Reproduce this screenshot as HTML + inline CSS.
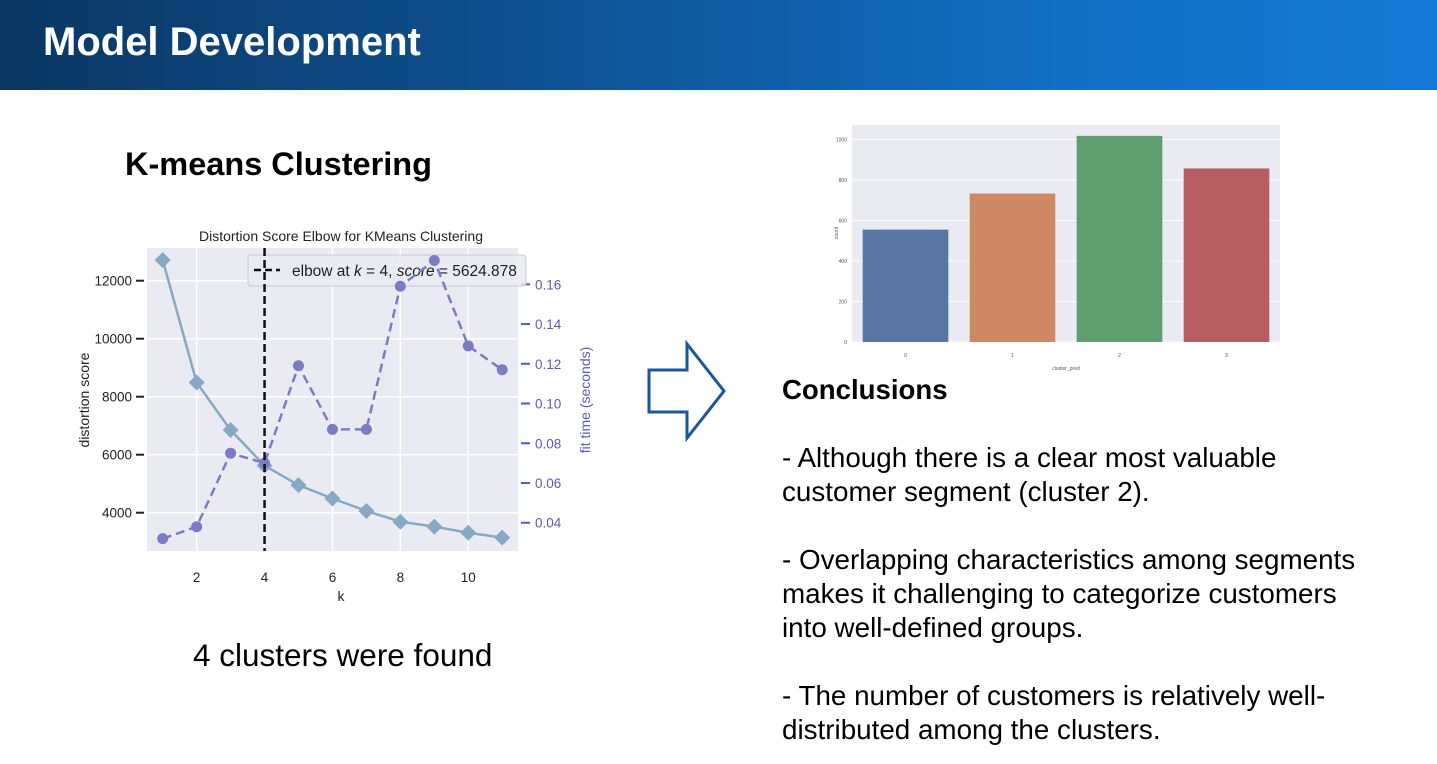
<!DOCTYPE html>
<html><head><meta charset="utf-8"><style>
html,body{margin:0;padding:0;width:1437px;height:764px;overflow:hidden;background:#fff;font-family:"Liberation Sans",sans-serif;}
.hdr{position:absolute;left:0;top:0;width:1437px;height:90px;background:linear-gradient(90deg,#0b3763 0%,#0e4f8f 35%,#1270c4 75%,#1479d6 100%);}
.hdr h1{position:absolute;left:43px;top:20px;margin:0;color:#fff;font-size:40px;font-weight:bold;}
.t{position:absolute;margin:0;color:#000;}
</style></head><body>
<div class="hdr"><h1>Model Development</h1></div>
<div class="t" style="left:125px;top:146px;font-size:32.5px;font-weight:bold;">K-means Clustering</div>
<div class="t" style="left:193px;top:637px;font-size:31.5px;">4 clusters were found</div>
<svg style="position:absolute;left:0;top:0" width="1437" height="764" id="svg">
<polygon points="649,370 687,370 687,344 724,391 687,438 687,412 649,412" fill="#fff" stroke="#1a5699" stroke-width="3"/>
<g id="elbow"></g>
<g id="bar"></g>
</svg>
<div class="t" style="left:782px;top:374px;font-size:27.6px;font-weight:bold;">Conclusions</div>
<div class="t" style="left:782px;top:441px;font-size:27.8px;line-height:34px;width:590px;">- Although there is a clear most valuable customer segment (cluster 2).<br><br>- Overlapping characteristics among segments makes it challenging to categorize customers into well-defined groups.<br><br>- The number of customers is relatively well-distributed among the clusters.</div>
<script>
const ks=[1,2,3,4,5,6,7,8,9,10,11];
const distortion=[12710,8490,6850,5625,4950,4490,4060,3690,3520,3310,3140];
const fitTime=[0.032,0.038,0.075,0.070,0.119,0.087,0.087,0.159,0.172,0.129,0.117];
const kTicks=[2,4,6,8,10];
const leftTicks=[4000,6000,8000,10000,12000];
const rightTicks=[0.04,0.06,0.08,0.10,0.12,0.14,0.16];
const elbowK=4;
const clusters=["0","1","2","3"];
const counts=[555,733,1018,857];
const countTicks=[0,200,400,600,800,1000];
const barColors=["#5875a4","#cc8963","#5f9e6e","#b55d60"];
const NS="http://www.w3.org/2000/svg";
function mk(p,tag,a,txt){const e=document.createElementNS(NS,tag);for(const k in a)e.setAttribute(k,a[k]);if(txt!==undefined)e.textContent=txt;p.appendChild(e);return e;}
const E=document.getElementById('elbow');
const L=147,R=518,T=248,B=551;
const xs=k=>162.7+(k-1)*33.95;
const yl=v=>280.7+(12000-v)*0.029;
const yr=v=>284.3+(0.16-v)*1987;
let bg=mk(E,'rect',{x:L,y:T,width:R-L,height:B-T,fill:'#eaeaf2'});

kTicks.forEach(k=>{mk(E,'line',{x1:xs(k),x2:xs(k),y1:T,y2:B,stroke:'#fff','stroke-width':1.5});
 let t=mk(E,'text',{x:xs(k),y:582,'font-size':13.5,'text-anchor':'middle',fill:'#222'},k);});
leftTicks.forEach(v=>{mk(E,'line',{x1:L,x2:R,y1:yl(v),y2:yl(v),stroke:'#fff','stroke-width':1.5});
 mk(E,'line',{x1:136,x2:144,y1:yl(v),y2:yl(v),stroke:'#222','stroke-width':2});
 let t=mk(E,'text',{x:132,y:yl(v)+5,'font-size':13.5,'text-anchor':'end',fill:'#222'},v);});
rightTicks.forEach(v=>{mk(E,'line',{x1:521,x2:530,y1:yr(v),y2:yr(v),stroke:'#5a5ab8','stroke-width':2});
 let t=mk(E,'text',{x:535,y:yr(v)+5,'font-size':13.5,fill:'#5a5ab8'},v.toFixed(2));});
let tt=mk(E,'text',{x:341,y:241,'font-size':14,'text-anchor':'middle',fill:'#222'},'Distortion Score Elbow for KMeans Clustering');
let xl=mk(E,'text',{x:341,y:601,'font-size':14,'text-anchor':'middle',fill:'#222'},'k');
let yl1=mk(E,'text',{x:0,y:0,'font-size':14,'text-anchor':'middle',fill:'#222',transform:'translate(89,400) rotate(-90)'},'distortion score');
let yl2=mk(E,'text',{x:0,y:0,'font-size':14,'text-anchor':'middle',fill:'#5a5ab8',transform:'translate(590,400) rotate(-90)'},'fit time (seconds)');
let lg=mk(E,'rect',{x:248,y:255,width:278,height:31,rx:3,fill:'#eaeaf2','fill-opacity':0.85,stroke:'#ccc'});

mk(E,'line',{x1:254,x2:280,y1:270,y2:270,stroke:'#111','stroke-width':2.5,'stroke-dasharray':'7,4'});
let lt=mk(E,'text',{x:292,y:276,'font-size':15.5,fill:'#222'});lt.innerHTML='elbow at <tspan font-style="italic">k</tspan> = 4, <tspan font-style="italic">score</tspan> = 5624.878';

let dl=mk(E,'polyline',{points:ks.map((k,i)=>xs(k)+','+yl(distortion[i])).join(' '),fill:'none',stroke:'#86aac4','stroke-width':2.5});

let fl=mk(E,'polyline',{points:ks.map((k,i)=>xs(k)+','+yr(fitTime[i])).join(' '),fill:'none',stroke:'#7c7cc4','stroke-width':2.5,'stroke-dasharray':'9,5'});

ks.forEach((k,i)=>{const x=xs(k),y=yl(distortion[i]);
 let d=mk(E,'polygon',{points:`${x},${y-8} ${x+8},${y} ${x},${y+8} ${x-8},${y}`,fill:'#86aac4'});
 
 let c=mk(E,'circle',{cx:x,cy:yr(fitTime[i]),r:5.5,fill:'#7c7cc4'});
 });
let el=mk(E,'line',{x1:xs(elbowK),x2:xs(elbowK),y1:T,y2:B,stroke:'#111','stroke-width':2.5,'stroke-dasharray':'8,4'});

const G=document.getElementById('bar');
const bL=852,bR=1280,bT=125,bB=342;
const by=v=>bB-v*0.2025;
const slot=(bR-bL)/clusters.length;
let bb=mk(G,'rect',{x:bL,y:bT,width:bR-bL,height:bB-bT,fill:'#eaeaf2'});

countTicks.forEach(v=>{mk(G,'line',{x1:bL,x2:bR,y1:by(v),y2:by(v),stroke:'#fff','stroke-width':1});
 let t=mk(G,'text',{x:847,y:by(v)+2,'font-size':5,'text-anchor':'end',fill:'#555'},v);});
clusters.forEach((c,i)=>{const x=bL+slot*i+slot*0.1;
 let r=mk(G,'rect',{x:x,y:by(counts[i]),width:slot*0.8,height:bB-by(counts[i]),fill:barColors[i]});
 
 let t=mk(G,'text',{x:bL+slot*(i+0.5),y:357,'font-size':5,'text-anchor':'middle',fill:'#555'},c);});
let bx=mk(G,'text',{x:1066,y:370,'font-size':5,'text-anchor':'middle',fill:'#555'},'cluster_pred');
let byl=mk(G,'text',{x:0,y:0,'font-size':5,'text-anchor':'middle',fill:'#555',transform:'translate(838,233) rotate(-90)'},'count');
</script>
</body></html>
